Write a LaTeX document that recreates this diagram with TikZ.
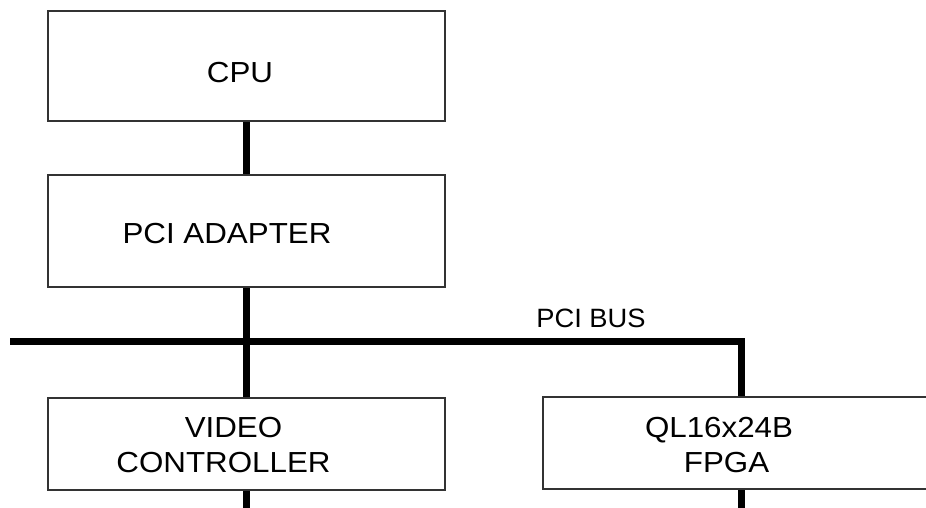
\documentclass[tikz,border=0pt]{standalone}
\usepackage{fontspec}
\usepackage{graphicx}
\setmainfont{Liberation Sans}
\begin{document}
\begin{tikzpicture}[x=1pt,y=-1pt,
  box/.style={draw=black!80, line width=2pt, rectangle, inner sep=0pt, fill=white},
  bus/.style={line width=7pt, black},
  lbl/.style={inner sep=0pt, anchor=base, font=\fontsize{29}{35}\selectfont},
  buslbl/.style={inner sep=0pt, anchor=base, font=\fontsize{26.5}{32}\selectfont}]
\useasboundingbox (0,0) rectangle (926,508);
\clip (0,0) rectangle (926,508);
\fill[white] (0,0) rectangle (926,508);
% boxes
\node[box, minimum width=397pt, minimum height=110pt] (cpu) at (246.5,66) {};
\node[box, minimum width=397pt, minimum height=112pt] (pci) at (246.5,231) {};
\node[box, minimum width=397pt, minimum height=92pt] (video) at (246.5,444) {};
\node[box, minimum width=396pt, minimum height=92pt] (fpga) at (741,443) {};
% connectors
\coordinate (busL) at (10,341.5);
\coordinate (busR) at (741,341.5);
\coordinate (vbot) at (246.5,515);
\coordinate (fbot) at (741,515);
\draw[bus] (cpu.south) -- (pci.north);
\draw[bus] (pci.south) -- (video.north);
\draw[bus, line join=miter] (busL) -- (busR) -- (fpga.north);
\draw[bus] (video.south) -- (vbot);
\draw[bus] (fpga.south) -- (fbot);
% labels
\node[lbl] (tcpu) at (240,83) {\scalebox{1.08}[1]{CPU}};
\node[lbl] (tpci) at (227,243) {\scalebox{1.08}[1]{PCI ADAPTER}};
\node[lbl] (tvid1) at (233.5,437) {\scalebox{1.08}[1]{VIDEO}};
\node[lbl] (tvid2) at (223.5,472) {\scalebox{1.08}[1]{CONTROLLER}};
\node[lbl] (tfp1) at (719,437) {\scalebox{1.08}[1]{QL16x24B}};
\node[lbl] (tfp2) at (726.5,472) {\scalebox{1.08}[1]{FPGA}};
\node[buslbl] (tbus) at (591,327) {\scalebox{1.03}[1]{PCI BUS}};
\end{tikzpicture}
\end{document}
